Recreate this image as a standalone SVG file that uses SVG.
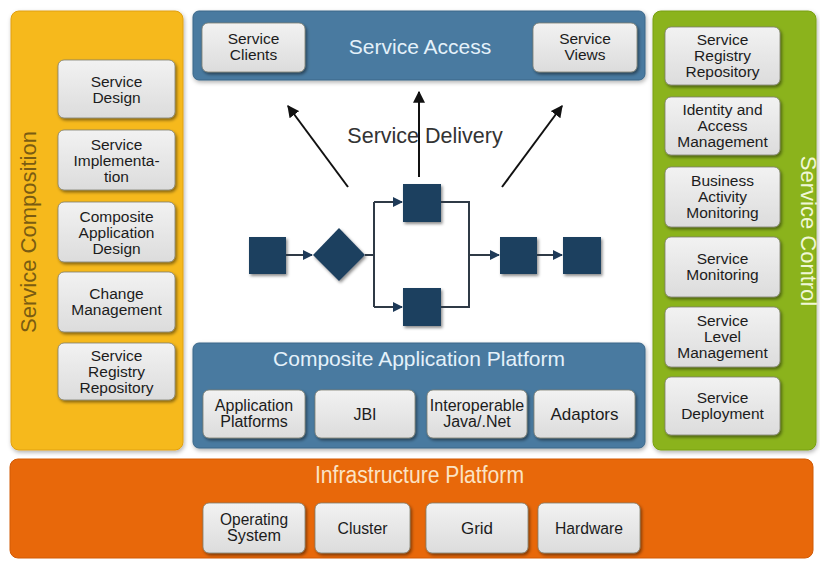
<svg xmlns="http://www.w3.org/2000/svg" width="820" height="561" viewBox="0 0 820 561">
  <defs>
    <linearGradient id="cardGrad" x1="0" y1="0" x2="0" y2="1">
      <stop offset="0" stop-color="#F2F2F2"/>
      <stop offset="1" stop-color="#DCDCDC"/>
    </linearGradient>
    <filter id="shadow" x="-10%" y="-10%" width="125%" height="130%">
      <feDropShadow dx="1.5" dy="2" stdDeviation="1.5" flood-color="#000" flood-opacity="0.45"/>
    </filter>
    <filter id="pshadow" x="-5%" y="-5%" width="110%" height="115%">
      <feDropShadow dx="1" dy="2" stdDeviation="2" flood-color="#000" flood-opacity="0.3"/>
    </filter>
    <marker id="bigArrow" viewBox="0 0 10 10" refX="9" refY="5" markerWidth="6" markerHeight="6" orient="auto" markerUnits="strokeWidth">
      <path d="M0,0 L10,5 L0,10 z" fill="#111"/>
    </marker>
    <marker id="smallArrow" viewBox="0 0 10 10" refX="9" refY="5" markerWidth="5" markerHeight="5" orient="auto" markerUnits="strokeWidth">
      <path d="M0,0 L10,5 L0,10 z" fill="#1E3A58"/>
    </marker>
  </defs>
  <style>
    .card { fill: url(#cardGrad); stroke: #7d7d70; stroke-width: 0.8; filter: url(#shadow); }
    .ct { font-family: "Liberation Sans", Arial, sans-serif; font-size: 15.5px; fill: #1c1c1c; text-anchor: middle; }
    .ctn { font-family: "Liberation Sans", Arial, sans-serif; font-size: 16px; fill: #1c1c1c; text-anchor: middle; }
    .title { font-family: "Liberation Sans", Arial, sans-serif; font-size: 21px; text-anchor: middle; }
    .sq { fill: #1E3F5F; filter: url(#shadow); }
    .flow { stroke: #2f3a46; stroke-width: 2; fill: none; }
    .deliv { stroke: #111; stroke-width: 2; fill: none; }
  </style>
  <rect width="820" height="561" fill="#FFFFFF"/>

  <!-- Service Composition panel -->
  <g id="service-composition">
    <rect x="11" y="11" width="172" height="439" rx="8" fill="#F6B91E" stroke="#E0A010" stroke-width="1" filter="url(#pshadow)"/>
    <text class="title" transform="translate(36,232) rotate(-90)" style="font-size:22px" fill="#7A5C12">Service Composition</text>
    <g id="sc-design">
      <rect class="card" x="58" y="60" width="117" height="58" rx="6"/>
      <text class="ct" x="116.5" y="86.5">Service</text>
      <text class="ct" x="116.5" y="102.5">Design</text>
    </g>
    <g id="sc-impl">
      <rect class="card" x="58" y="130" width="117" height="60" rx="6"/>
      <text class="ct" x="116.5" y="150">Service</text>
      <text class="ct" x="116.5" y="166">Implementa-</text>
      <text class="ct" x="116.5" y="182">tion</text>
    </g>
    <g id="sc-cad">
      <rect class="card" x="58" y="202" width="117" height="60" rx="6"/>
      <text class="ct" x="116.5" y="222">Composite</text>
      <text class="ct" x="116.5" y="238">Application</text>
      <text class="ct" x="116.5" y="254">Design</text>
    </g>
    <g id="sc-change">
      <rect class="card" x="58" y="272" width="117" height="60" rx="6"/>
      <text class="ct" x="116.5" y="299">Change</text>
      <text class="ct" x="116.5" y="315">Management</text>
    </g>
    <g id="sc-registry">
      <rect class="card" x="58" y="343" width="117" height="57" rx="6"/>
      <text class="ct" x="116.5" y="361">Service</text>
      <text class="ct" x="116.5" y="377">Registry</text>
      <text class="ct" x="116.5" y="393">Repository</text>
    </g>
  </g>

  <!-- Service Access panel -->
  <g id="service-access">
    <rect x="193" y="11" width="452" height="69" rx="6" fill="#4A7AA0" stroke="#3A6688" stroke-width="1" filter="url(#pshadow)"/>
    <text class="title" x="420" y="54" fill="#E4F1FA">Service Access</text>
    <g id="sa-clients">
      <rect class="card" x="202" y="23" width="103" height="49" rx="6"/>
      <text class="ct" x="253.5" y="44">Service</text>
      <text class="ct" x="253.5" y="60">Clients</text>
    </g>
    <g id="sa-views">
      <rect class="card" x="533" y="23" width="104" height="49" rx="6"/>
      <text class="ct" x="585" y="44">Service</text>
      <text class="ct" x="585" y="60">Views</text>
    </g>
  </g>

  <!-- Service Control panel -->
  <g id="service-control">
    <rect x="653" y="11" width="163" height="439" rx="8" fill="#8BB31B" stroke="#78A010" stroke-width="1" filter="url(#pshadow)"/>
    <text class="title" transform="translate(801,231) rotate(90)" style="font-size:22px" fill="#F0F7D6">Service Control</text>
    <g id="ctl-registry">
      <rect class="card" x="665" y="27" width="115" height="58" rx="6"/>
      <text class="ct" x="722.5" y="45">Service</text>
      <text class="ct" x="722.5" y="61">Registry</text>
      <text class="ct" x="722.5" y="77">Repository</text>
    </g>
    <g id="ctl-iam">
      <rect class="card" x="665" y="97" width="115" height="58" rx="6"/>
      <text class="ct" x="722.5" y="115">Identity and</text>
      <text class="ct" x="722.5" y="131">Access</text>
      <text class="ct" x="722.5" y="147">Management</text>
    </g>
    <g id="ctl-bam">
      <rect class="card" x="665" y="167" width="115" height="60" rx="6"/>
      <text class="ct" x="722.5" y="186">Business</text>
      <text class="ct" x="722.5" y="202">Activity</text>
      <text class="ct" x="722.5" y="218">Monitoring</text>
    </g>
    <g id="ctl-monitor">
      <rect class="card" x="665" y="237" width="115" height="60" rx="6"/>
      <text class="ct" x="722.5" y="264">Service</text>
      <text class="ct" x="722.5" y="280">Monitoring</text>
    </g>
    <g id="ctl-slm">
      <rect class="card" x="665" y="307" width="115" height="60" rx="6"/>
      <text class="ct" x="722.5" y="326">Service</text>
      <text class="ct" x="722.5" y="342">Level</text>
      <text class="ct" x="722.5" y="358">Management</text>
    </g>
    <g id="ctl-deploy">
      <rect class="card" x="665" y="377" width="115" height="58" rx="6"/>
      <text class="ct" x="722.5" y="403">Service</text>
      <text class="ct" x="722.5" y="419">Deployment</text>
    </g>
  </g>

  <!-- Composite Application Platform -->
  <g id="composite-platform">
    <rect x="193" y="343" width="452" height="105" rx="6" fill="#4A7AA0" stroke="#3A6688" stroke-width="1" filter="url(#pshadow)"/>
    <text class="title" x="419" y="366" fill="#E4F1FA">Composite Application Platform</text>
    <g id="cap-app">
      <rect class="card" x="203" y="390" width="102" height="48" rx="6"/>
      <text class="ctn" x="254" y="411">Application</text>
      <text class="ctn" x="254" y="427">Platforms</text>
    </g>
    <g id="cap-jbi">
      <rect class="card" x="315" y="390" width="100" height="48" rx="6"/>
      <text class="ctn" x="365" y="419.5">JBI</text>
    </g>
    <g id="cap-interop">
      <rect class="card" x="427" y="390" width="100" height="48" rx="6"/>
      <text class="ctn" x="477" y="411">Interoperable</text>
      <text class="ctn" x="477" y="427">Java/.Net</text>
    </g>
    <g id="cap-adaptors">
      <rect class="card" x="534" y="390" width="101" height="48" rx="6"/>
      <text class="ctn" x="584.5" y="419.5" style="font-size:17px">Adaptors</text>
    </g>
  </g>

  <!-- Infrastructure Platform -->
  <g id="infrastructure-platform">
    <rect x="10" y="459" width="803" height="99" rx="8" fill="#E8680A" stroke="#D25A05" stroke-width="1"/>
    <text class="title" x="419.5" y="483" fill="#FBE3C4" style="font-size:23px" textLength="209" lengthAdjust="spacingAndGlyphs">Infrastructure Platform</text>
    <g id="inf-os">
      <rect class="card" x="203" y="503" width="102" height="50" rx="6"/>
      <text class="ctn" x="254" y="525" textLength="68" lengthAdjust="spacingAndGlyphs">Operating</text>
      <text class="ctn" x="254" y="541" textLength="54" lengthAdjust="spacingAndGlyphs">System</text>
    </g>
    <g id="inf-cluster">
      <rect class="card" x="315" y="503" width="95" height="50" rx="6"/>
      <text class="ctn" x="362.5" y="534" textLength="50" lengthAdjust="spacingAndGlyphs">Cluster</text>
    </g>
    <g id="inf-grid">
      <rect class="card" x="426" y="503" width="102" height="50" rx="6"/>
      <text class="ctn" x="477" y="534" textLength="32" lengthAdjust="spacingAndGlyphs">Grid</text>
    </g>
    <g id="inf-hardware">
      <rect class="card" x="538" y="503" width="102" height="50" rx="6"/>
      <text class="ctn" x="589" y="534" textLength="68" lengthAdjust="spacingAndGlyphs">Hardware</text>
    </g>
  </g>

  <!-- Service Delivery label -->
  <text id="service-delivery" class="title" x="425" y="143" fill="#333333" style="font-size:21.5px">Service Delivery</text>

  <!-- Process nodes -->
  <g id="node-start"><rect class="sq" x="249" y="237" width="37" height="37"/></g>
  <g id="node-decision"><path class="sq" d="M339,228 L365,255 L339,281 L313,255 Z"/></g>
  <g id="node-top"><rect class="sq" x="403" y="184" width="38" height="38"/></g>
  <g id="node-bottom"><rect class="sq" x="403" y="288" width="38" height="38"/></g>
  <g id="node-merge"><rect class="sq" x="500" y="237" width="37" height="37"/></g>
  <g id="node-end"><rect class="sq" x="563" y="237" width="38" height="37"/></g>

  <!-- Connectors -->
  <g id="connectors">
    <line class="flow" x1="286" y1="255" x2="312" y2="255" marker-end="url(#smallArrow)"/>
    <polyline class="flow" points="365,255 374,255"/>
    <polyline class="flow" points="374,202 374,307"/>
    <line class="flow" x1="374" y1="202" x2="402" y2="202" marker-end="url(#smallArrow)"/>
    <line class="flow" x1="374" y1="307" x2="402" y2="307" marker-end="url(#smallArrow)"/>
    <polyline class="flow" points="441,202 469,202 469,307 441,307"/>
    <line class="flow" x1="469" y1="255" x2="499" y2="255" marker-end="url(#smallArrow)"/>
    <line class="flow" x1="537" y1="255" x2="562" y2="255" marker-end="url(#smallArrow)"/>
    <line class="deliv" x1="348" y1="187" x2="288" y2="106" marker-end="url(#bigArrow)"/>
    <line class="deliv" x1="419" y1="177" x2="419" y2="92" marker-end="url(#bigArrow)"/>
    <line class="deliv" x1="502" y1="187" x2="562" y2="106" marker-end="url(#bigArrow)"/>
  </g>
</svg>
